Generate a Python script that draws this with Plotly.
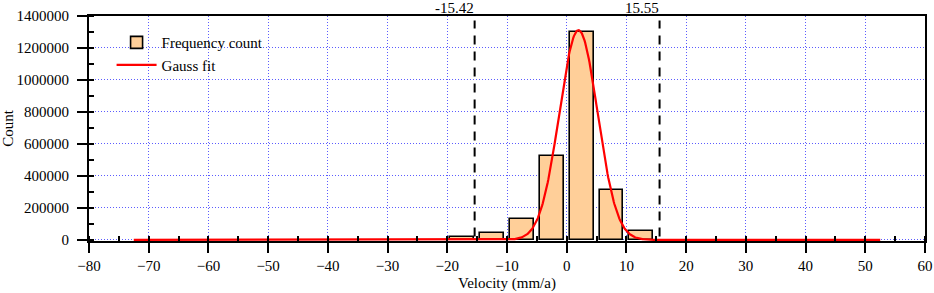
import numpy as np
import plotly.graph_objects as go

# ---- data ----
bin_centers = [-17.5, -12.5, -7.5, -2.5, 2.5, 7.5, 12.5]
bin_counts = [20000, 45000, 132000, 523000, 1300000, 315000, 55000]
bar_width = 4

gauss_amp = 1311000
gauss_mu = 1.97
gauss_sigma = 3.2
gauss_xmin = -72.5
gauss_xmax = 52.5

threshold_values = [-15.42, 15.55]
threshold_labels = ["-15.42", "15.55"]

FONT = "Liberation Serif, Times New Roman, serif"
GRID = "#5c5cff"
GRID_DASH = "1px,2px"

gx = np.linspace(gauss_xmin, gauss_xmax, 1200)
gy = gauss_amp * np.exp(-((gx - gauss_mu) ** 2) / (2 * gauss_sigma ** 2))

fig = go.Figure()
fig.add_trace(go.Bar(
    x=bin_centers, y=bin_counts, width=bar_width,
    marker=dict(color="#FFCF99", line=dict(color="black", width=1.6)),
    name="Frequency count",
))
fig.add_trace(go.Scatter(
    x=gx, y=gy, mode="lines", line=dict(color="#FF0000", width=2.2),
    name="Gauss fit",
))

for v, lab in zip(threshold_values, threshold_labels):
    fig.add_shape(type="line", xref="x", yref="paper", x0=v, x1=v, y0=0.02, y1=0.98,
                  line=dict(color="black", width=2, dash="9px,7px"))
    fig.add_annotation(x=v, xref="x", y=1, yref="paper", text=lab, showarrow=False,
                       xanchor="right", yanchor="middle", yshift=8,
                       borderpad=0,
                       font=dict(family=FONT, size=15, color="black"))

common_tick = dict(tickwidth=2, tickcolor="black", automargin=False, zeroline=False)

fig.update_layout(
    width=934, height=293,
    margin=dict(l=89, r=9, t=16, b=52, autoexpand=False),
    paper_bgcolor="white", plot_bgcolor="white",
    font=dict(family=FONT, size=15, color="black"),
    bargap=0,
    showlegend=True,
    legend=dict(x=0.027, y=0.955, xanchor="left", yanchor="top",
                bgcolor="rgba(0,0,0,0)", font=dict(family=FONT, size=15),
                tracegroupgap=0, itemwidth=40),
    xaxis=dict(
        range=[-80, 60], dtick=10, tick0=0,
        ticks="outside", ticklen=10,
        showline=True, linewidth=2, linecolor="black", mirror=True,
        showgrid=True, gridcolor=GRID, griddash=GRID_DASH, gridwidth=1,
        minor=dict(ticks="inside", ticklen=5, tickwidth=2, tickcolor="black",
                   dtick=5, tick0=0, showgrid=False),
        title=dict(text="Velocity (mm/a)", standoff=4, font=dict(family=FONT, size=15)),
        tickfont=dict(family=FONT, size=15),
        **common_tick,
    ),
    xaxis2=dict(
        range=[-80, 60], dtick=10, tick0=0, overlaying="x", anchor="y", side="bottom",
        ticks="inside", ticklen=10,
        showticklabels=False, showgrid=False, showline=False,
        **common_tick,
    ),
    yaxis=dict(
        range=[-7000, 1400000], dtick=200000, tick0=0, tickformat="d",
        ticks="outside", ticklen=10,
        showline=True, linewidth=2, linecolor="black", mirror=True,
        showgrid=True, gridcolor=GRID, griddash=GRID_DASH, gridwidth=1,
        ticklabelstandoff=5,
        minor=dict(ticks="inside", ticklen=5, tickwidth=2, tickcolor="black",
                   dtick=100000, tick0=0, showgrid=False),
        title=dict(text="Count", standoff=4, font=dict(family=FONT, size=15)),
        tickfont=dict(family=FONT, size=15),
        **common_tick,
    ),
    yaxis2=dict(
        range=[-7000, 1400000], dtick=200000, tick0=0, overlaying="y", anchor="x", side="left",
        ticks="inside", ticklen=10,
        showticklabels=False, showgrid=False, showline=False,
        **common_tick,
    ),
)

fig.write_html("out.html",
               config={"displayModeBar": False},
               post_script="document.body.style.margin='0';document.body.style.padding='0';")
